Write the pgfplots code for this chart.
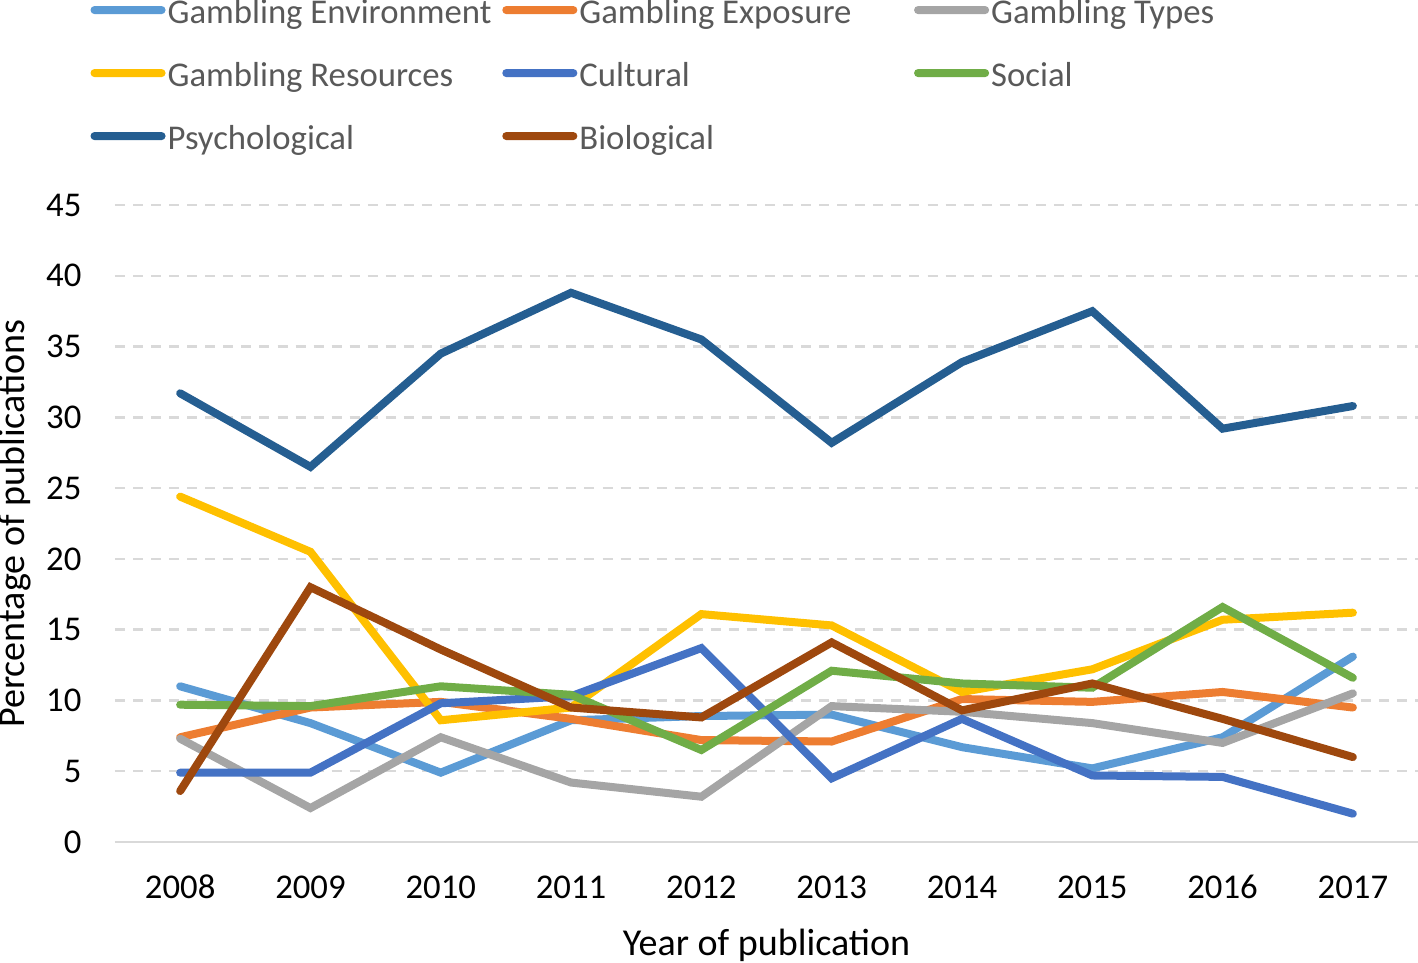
\documentclass[border=0pt]{standalone}
\usepackage{fontspec}
\setmainfont{Carlito}
\usepackage{pgfplots}
\pgfplotsset{compat=1.18}
\definecolor{cEnv}{HTML}{5B9BD5}
\definecolor{cExp}{HTML}{ED7D31}
\definecolor{cTyp}{HTML}{A5A5A5}
\definecolor{cRes}{HTML}{FFC000}
\definecolor{cCul}{HTML}{4472C4}
\definecolor{cSoc}{HTML}{70AD47}
\definecolor{cPsy}{HTML}{255E91}
\definecolor{cBio}{HTML}{9E480E}
\definecolor{gridgray}{HTML}{D9D9D9}
\definecolor{leggray}{HTML}{595959}
\newcommand{\LE}[1]{\makebox[120.5pt][l]{#1}}
\begin{document}
\begin{tikzpicture}
\begin{axis}[
  scale only axis,
  width=469.08pt, height=229.32pt,
  xmin=-0.5, xmax=9.5, ymin=0, ymax=45,
  xtick={0,...,9},
  xticklabels={2008,2009,2010,2011,2012,2013,2014,2015,2016,2017},
  ytick={0,5,...,45},
  /pgf/number format/assume math mode=true,
  tick label style={font=\fontsize{12.5}{15}\selectfont, text=black},
  yticklabel style={anchor=east, inner sep=0pt, xshift=-11.9pt},
  xticklabel style={anchor=north, inner sep=0pt, yshift=-12.2pt, text height=8pt},
  major tick length=0pt,
  axis line style={draw=none},
  ymajorgrids,
  major grid style={gridgray, line width=0.9pt, dash pattern=on 3.6pt off 2.9pt},
  extra y ticks={0},
  extra y tick labels={},
  extra y tick style={ymajorgrids, major grid style={gridgray, line width=0.8pt, solid}},
  xlabel={Year of publication},
  ylabel={Percentage of publications},
  label style={font=\fontsize{13.7}{16}\selectfont, text=black},
  xlabel style={at={(axis description cs:0.5,-0.1775)}, anchor=base},
  ylabel style={at={(axis description cs:-0.0768,0.5)}, anchor=center, rotate=0},
  clip=false,
  every axis plot/.append style={line width=2.88pt, line cap=round},
  legend columns=3,
  legend cell align=left,
  legend image code/.code={
    \path[draw=none, fill=none] (0pt,0pt) -- (27.74pt,0pt);
    \path[#1, draw=none, fill, overlay, rounded corners=1.4pt] (0pt,1.76pt) rectangle (27pt,4.64pt);
  },
  legend style={
    at={(axis description cs:-0.0192,1.3424)}, anchor=north west,
    draw=none, fill=none, inner sep=0pt, column sep=0pt, row sep=0pt,
    font=\fontsize{12.5}{15}\selectfont, text=leggray,
    nodes={inner sep=0pt, text height=13pt, text depth=9.68pt},
  },
]
\addplot[cEnv] coordinates {(0,11.0) (1,8.4) (2,4.9) (3,8.6) (4,8.9) (5,9.0) (6,6.7) (7,5.2) (8,7.4) (9,13.1)};
\addlegendentry{\LE{Gambling Environment}}
\addplot[cExp] coordinates {(0,7.4) (1,9.5) (2,9.9) (3,8.7) (4,7.2) (5,7.1) (6,10.1) (7,9.9) (8,10.6) (9,9.5)};
\addlegendentry{\LE{Gambling Exposure}}
\addplot[cTyp] coordinates {(0,7.3) (1,2.4) (2,7.4) (3,4.2) (4,3.2) (5,9.6) (6,9.2) (7,8.4) (8,7.0) (9,10.5)};
\addlegendentry{Gambling Types}
\addplot[cRes] coordinates {(0,24.4) (1,20.5) (2,8.6) (3,9.5) (4,16.1) (5,15.3) (6,10.6) (7,12.2) (8,15.7) (9,16.2)};
\addlegendentry{\LE{Gambling Resources}}
\addplot[cCul] coordinates {(0,4.9) (1,4.9) (2,9.8) (3,10.3) (4,13.7) (5,4.5) (6,8.7) (7,4.7) (8,4.6) (9,2.0)};
\addlegendentry{\LE{Cultural}}
\addplot[cSoc] coordinates {(0,9.7) (1,9.6) (2,11.0) (3,10.4) (4,6.5) (5,12.1) (6,11.2) (7,10.9) (8,16.6) (9,11.6)};
\addlegendentry{Social}
\addplot[cPsy] coordinates {(0,31.7) (1,26.5) (2,34.5) (3,38.8) (4,35.5) (5,28.2) (6,33.9) (7,37.5) (8,29.2) (9,30.8)};
\addlegendentry{\LE{Psychological}}
\addplot[cBio] coordinates {(0,3.6) (1,18.0) (2,13.6) (3,9.5) (4,8.8) (5,14.1) (6,9.3) (7,11.2) (8,8.7) (9,6.0)};
\addlegendentry{\LE{Biological}}
\end{axis}
\pgfresetboundingbox
\useasboundingbox (-41.4pt,-43.2pt) rectangle (469.08pt,303.12pt);
\end{tikzpicture}
\end{document}
